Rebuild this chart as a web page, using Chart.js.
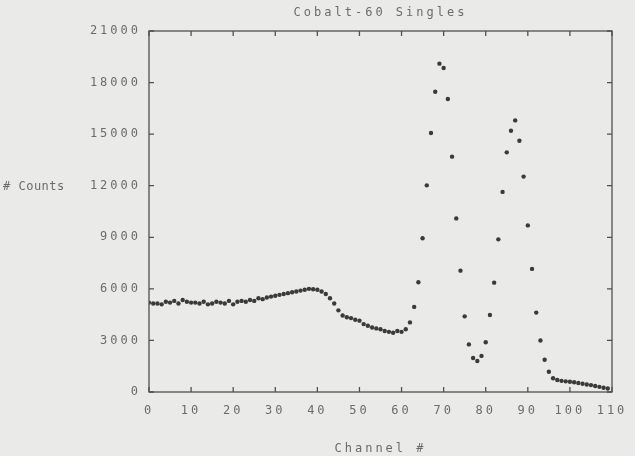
<!DOCTYPE html>
<html>
<head>
<meta charset="utf-8">
<title>Cobalt-60 Singles</title>
<script src="https://cdn.jsdelivr.net/npm/chart.js@4/dist/chart.umd.min.js"></script>
<style>
  html, body { margin: 0; padding: 0; background: #eaeae8; }
  #wrap { width: 635px; height: 456px; position: relative; }
</style>
</head>
<body>
<div id="wrap"><canvas id="chart"></canvas></div>
<script>
// === DATA ===
var FIRST_CHANNEL = 0;
var COUNTS = [
  5200, 5150, 5150, 5100, 5250, 5200, 5300, 5150, 5350, 5250,   // 0-9
  5200, 5200, 5150, 5250, 5100, 5150, 5250, 5200, 5150, 5300,   // 10-19
  5100, 5250, 5300, 5250, 5350, 5300, 5450, 5400, 5500, 5550,   // 20-29
  5600, 5650, 5700, 5750, 5800, 5850, 5900, 5950, 6000, 5980,   // 30-39
  5950, 5850, 5700, 5450, 5150, 4750, 4450, 4350, 4300, 4200,   // 40-49
  4150, 3950, 3850, 3750, 3700, 3650, 3550, 3500, 3450, 3550,   // 50-59
  3500, 3650, 4050, 4950, 6380, 8940, 12020, 15070, 17470, 19100, // 60-69
  18850, 17040, 13690, 10100, 7060, 4400, 2770, 1980, 1800, 2100, // 70-79
  2890, 4480, 6360, 8880, 11640, 13940, 15200, 15800, 14620, 12530, // 80-89
  9690, 7160, 4620, 3000, 1880, 1180, 800, 700, 650, 620,        // 90-99
  600, 570, 520, 480, 440, 400, 350, 300, 250, 200               // 100-109
];
var X_TICKS = [0, 10, 20, 30, 40, 50, 60, 70, 80, 90, 100, 110];
var Y_TICKS = [0, 3000, 6000, 9000, 12000, 15000, 18000, 21000];

var TITLE   = 'Cobalt-60 Singles';
var X_LABEL = 'Channel #';
var Y_LABEL = '# Counts';

// === STYLE ===
var FONT_FAMILY = '"DejaVu Sans Mono", "Liberation Mono", monospace';
var TEXT_COLOR  = '#6b6b6b';
var AXIS_COLOR  = '#505050';
var DOT_COLOR   = '#3a3a3a';

var points = COUNTS.map(function (c, i) { return { x: FIRST_CHANNEL + i, y: c }; });

// box round the plot, inward ticks on all four sides, and the free labels
var framePlugin = {
  id: 'frame',
  beforeDraw: function (chart) {
    chart.ctx.letterSpacing = '3px';
  },
  afterDraw: function (chart) {
    var ctx = chart.ctx, a = chart.chartArea;
    var xs = chart.scales.x, ys = chart.scales.y;
    var tl = 5;
    ctx.save();
    ctx.strokeStyle = AXIS_COLOR;
    ctx.lineWidth = 1.3;
    ctx.strokeRect(a.left, a.top, a.right - a.left, a.bottom - a.top);
    ctx.beginPath();
    X_TICKS.forEach(function (v) {
      var px = xs.getPixelForValue(v);
      ctx.moveTo(px, a.bottom); ctx.lineTo(px, a.bottom - tl);
      ctx.moveTo(px, a.top);    ctx.lineTo(px, a.top + tl);
    });
    Y_TICKS.forEach(function (v) {
      var py = ys.getPixelForValue(v);
      ctx.moveTo(a.left, py);  ctx.lineTo(a.left + tl, py);
      ctx.moveTo(a.right, py); ctx.lineTo(a.right - tl, py);
    });
    ctx.stroke();

    ctx.fillStyle = TEXT_COLOR;
    ctx.font = '12px ' + FONT_FAMILY;
    ctx.letterSpacing = '3px';
    ctx.textBaseline = 'middle';
    ctx.textAlign = 'center';
    var cx = (a.left + a.right) / 2;
    ctx.fillText(TITLE, cx, 13);
    ctx.fillText(X_LABEL, cx, 449);
    ctx.letterSpacing = '0.5px';
    ctx.textAlign = 'left';
    ctx.fillText(Y_LABEL, 3, ys.getPixelForValue(12000) + 1);
    ctx.restore();
  }
};

new Chart(document.getElementById('chart'), {
  type: 'scatter',
  data: {
    datasets: [{
      data: points,
      pointRadius: 2.2,
      pointBackgroundColor: DOT_COLOR,
      pointBorderWidth: 0,
      showLine: false
    }]
  },
  options: {
    responsive: true,
    maintainAspectRatio: false,
    animation: false,
    layout: { padding: { left: 0, right: 23, top: 31, bottom: 0 } },
    plugins: {
      legend:  { display: false },
      tooltip: { enabled: false }
    },
    scales: {
      x: {
        type: 'linear',
        min: 0, max: 110,
        afterFit: function (s) { s.height = 64; },
        afterBuildTicks: function (s) { s.ticks = X_TICKS.map(function (v) { return { value: v }; }); },
        grid:   { display: false, drawTicks: false },
        border: { display: false },
        ticks: {
          padding: 12, maxRotation: 0, autoSkip: false,
          color: TEXT_COLOR,
          font: { family: FONT_FAMILY, size: 12 }
        }
      },
      y: {
        min: 0, max: 21000,
        afterFit: function (s) { s.width = 149; },
        afterBuildTicks: function (s) { s.ticks = Y_TICKS.map(function (v) { return { value: v }; }); },
        grid:   { display: false, drawTicks: false },
        border: { display: false },
        ticks: {
          padding: 8, autoSkip: false,
          color: TEXT_COLOR,
          font: { family: FONT_FAMILY, size: 12 },
          callback: function (v) { return String(v); }
        }
      }
    }
  },
  plugins: [framePlugin]
});
</script>
</body>
</html>
